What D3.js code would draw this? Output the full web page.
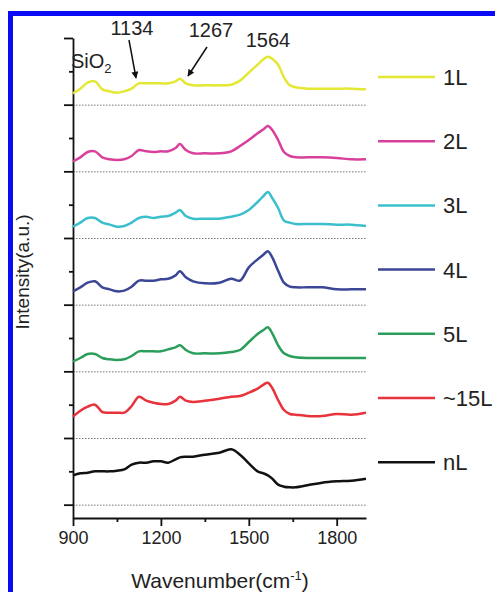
<!DOCTYPE html>
<html><head><meta charset="utf-8">
<script src="https://cdn.jsdelivr.net/npm/d3@7"></script>
<style>body{margin:0;background:#fff;}svg{display:block;font-family:"Liberation Sans",Arial,sans-serif;}</style>
</head><body><svg id="c" width="495" height="592"></svg>
<script>
const wavenumbers = [900,925,950,975,1000,1025,1050,1075,1100,1125,1150,1175,1200,1225,1250,1265,1285,1310,1350,1400,1440,1470,1500,1530,1550,1565,1580,1600,1620,1640,1660,1700,1750,1800,1850,1900];
const layers = ["1L","2L","3L","4L","5L","~15L","nL"];
const offsets = [60,50,40,30,20,10,0];
const colors = ["#e4e833","#d8409c","#3bbfcc","#3b4696","#2a9e5a","#e8323c","#111111"];
const s1L  = [1.7,2.4,3.3,3.5,2.3,2.0,1.8,2.0,2.4,3.2,3.2,3.2,3.2,3.2,3.5,3.9,3.2,2.9,2.9,2.9,3.0,3.6,4.8,6.0,6.8,7.2,6.9,6.0,4.1,2.9,2.6,2.4,2.4,2.4,2.4,2.3];
const s2L  = [1.5,2.1,2.9,3.0,2.1,1.8,1.7,1.8,2.3,3.2,3.0,2.9,3.0,3.0,3.5,4.1,3.2,2.7,2.7,2.7,3.0,3.8,4.7,5.7,6.3,6.8,6.2,4.7,2.9,2.3,2.1,2.1,2.1,2.0,1.8,1.8];
const s3L  = [1.7,2.3,3.0,3.0,2.3,2.0,1.7,1.8,2.3,3.0,3.2,3.0,3.2,3.3,3.8,4.2,3.3,2.9,2.9,2.9,3.2,3.5,4.2,5.4,6.3,6.9,6.0,4.5,2.6,2.3,2.1,2.1,2.1,2.0,2.0,1.8];
const s4L  = [2.0,2.6,3.3,3.5,2.6,2.3,2.0,2.1,2.7,3.6,3.6,3.6,3.8,3.9,4.4,5.0,4.1,3.5,3.2,3.3,3.9,3.6,5.6,6.8,7.5,8.0,7.1,5.1,3.3,2.7,2.6,2.6,2.6,2.3,2.3,2.3];
const s5L  = [1.5,2.0,2.6,2.6,2.0,1.8,1.7,1.8,2.3,3.0,3.0,3.0,3.0,3.3,3.6,3.9,3.2,2.7,2.7,2.7,2.9,3.2,4.4,5.6,6.2,6.6,5.7,3.9,2.7,2.3,2.1,2.0,2.0,2.0,2.0,2.0];
const s15L = [3.2,4.1,4.7,5.0,3.9,3.8,3.8,3.8,4.8,6.2,5.6,5.3,5.1,5.1,5.6,6.2,5.6,5.4,5.6,5.9,6.2,6.3,6.8,7.4,8.0,8.3,7.5,5.7,4.2,3.6,3.5,3.3,3.3,3.6,3.5,3.8];
const snL  = [4.4,4.7,4.8,5.0,5.0,5.0,5.1,5.3,6.0,6.3,6.3,6.5,6.5,6.3,6.8,7.1,7.2,7.2,7.5,7.8,8.3,7.5,6.2,5.0,4.7,4.4,3.9,3.0,2.7,2.6,2.6,2.9,3.3,3.5,3.6,3.9];
const series = [s1L,s2L,s3L,s4L,s5L,s15L,snL];
const xMajor = [900,1200,1500,1800];
const xMinor = [1050,1350,1650];
const yMajor = [0,10,20,30,40,50,60,70];
const yMinor = [5,15,25,35,45,55,65];
const peakLabels = ["1134","1267","1564"];

const svg = d3.select("#c");
const font = "Liberation Sans, Arial, sans-serif";
// blue frame
svg.append("rect").attr("x",10.5).attr("y",13.5).attr("width",600).attr("height",700)
  .attr("fill","none").attr("stroke","#0a0af5").attr("stroke-width",5);

const x = d3.scaleLinear().domain([900,1900]).range([73,366]);
const y = d3.scaleLinear().domain([-2,70]).range([518,38]);

// dotted baselines
svg.append("g").selectAll("line").data(offsets).join("line")
  .attr("x1",x(900)).attr("x2",x(1900)).attr("y1",d=>y(d)+0.5).attr("y2",d=>y(d)+0.5)
  .attr("stroke","#777").attr("stroke-width",1).attr("stroke-dasharray","1.5,1.5");

// axes
const axStyle = g => { g.selectAll("path,line").attr("stroke","#111").attr("stroke-width",1.8); };
svg.append("g").attr("transform",`translate(0,${y(-2)})`)
  .call(d3.axisBottom(x).tickValues(xMajor).tickSize(8).tickSizeOuter(0).tickPadding(5).tickFormat(d3.format("d")))
  .call(axStyle).call(g=>g.selectAll("text").attr("font-size",18).attr("fill","#222").attr("font-family",font));
svg.append("g").attr("transform",`translate(0,${y(-2)})`)
  .call(d3.axisBottom(x).tickValues(xMinor).tickSize(4).tickSizeOuter(0).tickFormat(""))
  .call(axStyle).call(g=>g.select(".domain").remove());
svg.append("g").attr("transform",`translate(${x(900)},0)`)
  .call(d3.axisLeft(y).tickValues(yMajor).tickSize(9).tickSizeOuter(0).tickFormat(""))
  .call(axStyle);
svg.append("g").attr("transform",`translate(${x(900)},0)`)
  .call(d3.axisLeft(y).tickValues(yMinor).tickSize(4).tickSizeOuter(0).tickFormat(""))
  .call(axStyle).call(g=>g.select(".domain").remove());

// spectra
const line = d3.line().x((d,i)=>x(wavenumbers[i])).curve(d3.curveCatmullRom.alpha(0.5));
series.forEach((s,k)=>{
  svg.append("path").datum(s)
    .attr("d", line.y(d=>y(d+offsets[k])))
    .attr("fill","none").attr("stroke",colors[k]).attr("stroke-width",2.5).attr("stroke-linejoin","round");
});

// legend
const leg = svg.append("g");
layers.forEach((l,i)=>{
  const yy = 77 + i*64.2;
  leg.append("line").attr("x1",378).attr("x2",435).attr("y1",yy).attr("y2",yy)
    .attr("stroke",colors[i]).attr("stroke-width",2.5);
  leg.append("text").attr("x",443).attr("y",yy).attr("dy","0.36em").attr("font-size",22).attr("fill","#222").text(l);
});

// axis titles
svg.append("text").attr("x",220).attr("y",588).attr("text-anchor","middle").attr("font-size",21).attr("fill","#222")
  .call(t=>{ t.append("tspan").text("Wavenumber(cm");
    t.append("tspan").attr("font-size",13).attr("dy",-8).text("-1");
    t.append("tspan").attr("dy",8).text(")"); });
svg.append("text").attr("transform","translate(29,272) rotate(-90)").attr("text-anchor","middle")
  .attr("font-size",19).attr("fill","#222").text("Intensity(a.u.)");

// annotations
svg.append("text").attr("x",71).attr("y",68).attr("font-size",20).attr("fill","#222")
  .call(t=>{ t.append("tspan").text("SiO"); t.append("tspan").attr("font-size",13).attr("dy",5).text("2"); });
const labelPos = [[132,35],[211,37],[268,47]];
peakLabels.forEach((p,i)=>{
  svg.append("text").attr("x",labelPos[i][0]).attr("y",labelPos[i][1]).attr("text-anchor","middle")
    .attr("font-size",20).attr("fill","#222").text(p);
});

const defs = svg.append("defs");
defs.append("marker").attr("id","ah").attr("viewBox","0 0 10 10").attr("refX",9).attr("refY",5)
  .attr("markerWidth",8).attr("markerHeight",7).attr("orient","auto").attr("markerUnits","userSpaceOnUse")
  .append("path").attr("d","M0,0L10,5L0,10z").attr("fill","#111");
svg.append("line").attr("x1",129).attr("y1",40).attr("x2",136).attr("y2",78)
  .attr("stroke","#111").attr("stroke-width",1.5).attr("marker-end","url(#ah)");
svg.append("line").attr("x1",207).attr("y1",47).attr("x2",188).attr("y2",76)
  .attr("stroke","#111").attr("stroke-width",1.5).attr("marker-end","url(#ah)");
</script></body></html>
